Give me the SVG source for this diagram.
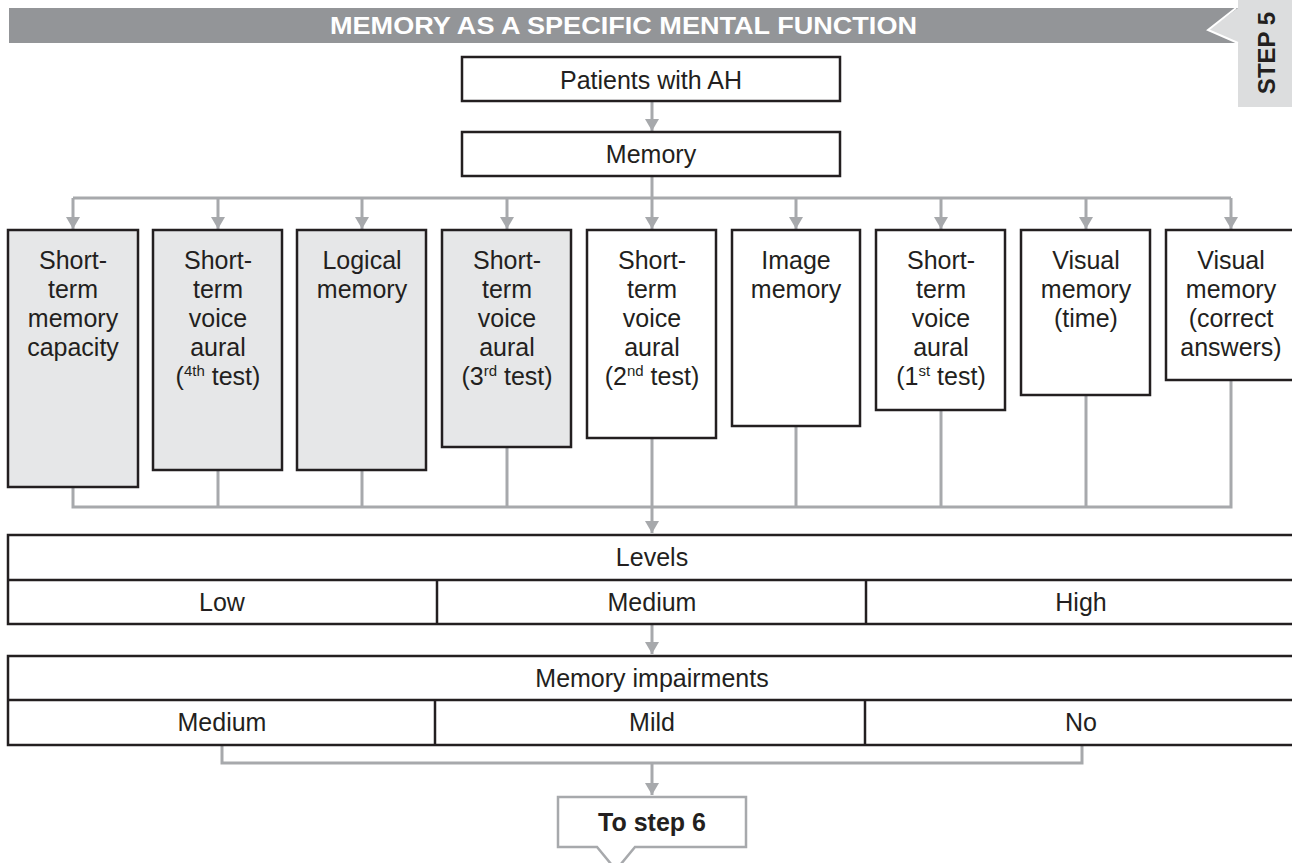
<svg xmlns="http://www.w3.org/2000/svg" width="1292" height="863" viewBox="0 0 1292 863">
<style>
text{font-family:"Liberation Sans",Arial,sans-serif;fill:#231f20;font-size:25px;text-anchor:middle}
.box{stroke:#231f20;stroke-width:2.5;fill:#fff}
.g{fill:#e6e7e8}
.c{stroke:#a7a9ac;stroke-width:3;fill:none}
.ln{stroke:#231f20;stroke-width:2.5}
.sup{font-size:15px}
</style>
<defs>
<marker id="ah" markerWidth="12" markerHeight="14" refX="12" refY="7" orient="auto" markerUnits="userSpaceOnUse">
<path d="M0,0 L12,7 L0,14 Z" fill="#a7a9ac"/>
</marker>
</defs>
<g id="header">
<rect x="9" y="8" width="1229" height="35" fill="#939598"/>
<text x="623.5" y="34" textLength="587" lengthAdjust="spacingAndGlyphs" style="fill:#fff;font-weight:bold;font-size:23px">MEMORY AS A SPECIFIC MENTAL FUNCTION</text>
</g>
<g id="step-tab">
<path d="M1238,0 H1292 V107 H1238 V43 L1208,30 L1238,8 Z" fill="#dcddde"/>
<path d="M1236,8 L1208,30 L1238,43" fill="none" stroke="#fff" stroke-width="2"/>
<text transform="translate(1275,53) rotate(-90)" style="font-weight:bold;font-size:24px">STEP 5</text>
</g>
<g id="connectors">
<line class="c" x1="652" y1="101" x2="652" y2="131" marker-end="url(#ah)"/>
<line class="c" x1="652" y1="176" x2="652" y2="198"/>
<line class="c" x1="73" y1="198" x2="1231" y2="198"/>
<line class="c" x1="73" y1="198" x2="73" y2="229" marker-end="url(#ah)"/>
<line class="c" x1="218" y1="198" x2="218" y2="229" marker-end="url(#ah)"/>
<line class="c" x1="362" y1="198" x2="362" y2="229" marker-end="url(#ah)"/>
<line class="c" x1="507" y1="198" x2="507" y2="229" marker-end="url(#ah)"/>
<line class="c" x1="652" y1="198" x2="652" y2="229" marker-end="url(#ah)"/>
<line class="c" x1="796" y1="198" x2="796" y2="229" marker-end="url(#ah)"/>
<line class="c" x1="941" y1="198" x2="941" y2="229" marker-end="url(#ah)"/>
<line class="c" x1="1086" y1="198" x2="1086" y2="229" marker-end="url(#ah)"/>
<line class="c" x1="1231" y1="198" x2="1231" y2="229" marker-end="url(#ah)"/>
<polyline class="c" points="73,487 73,507 1231,507 1231,380"/>
<line class="c" x1="218" y1="470" x2="218" y2="507"/>
<line class="c" x1="362" y1="470" x2="362" y2="507"/>
<line class="c" x1="507" y1="447" x2="507" y2="507"/>
<line class="c" x1="652" y1="438" x2="652" y2="533" marker-end="url(#ah)"/>
<line class="c" x1="796" y1="426" x2="796" y2="507"/>
<line class="c" x1="941" y1="410" x2="941" y2="507"/>
<line class="c" x1="1086" y1="395" x2="1086" y2="507"/>
<line class="c" x1="652" y1="624" x2="652" y2="654" marker-end="url(#ah)"/>
<polyline class="c" points="222,745 222,763 1082,763 1082,745"/>
<line class="c" x1="652" y1="763" x2="652" y2="795" marker-end="url(#ah)"/>
</g>
<g id="patients">
<rect class="box" x="462" y="57" width="378" height="44"/>
<text x="651" y="89">Patients with AH</text>
</g>
<g id="memory">
<rect class="box" x="462" y="132" width="378" height="44"/>
<text x="651" y="163">Memory</text>
</g>
<g id="n1">
<rect class="box g" x="8" y="230" width="130" height="257"/>
<text x="73" y="269">Short-</text><text x="73" y="298">term</text><text x="73" y="327">memory</text><text x="73" y="356">capacity</text>
</g>
<g id="n2">
<rect class="box g" x="153" y="230" width="129" height="240"/>
<text x="218" y="269">Short-</text><text x="218" y="298">term</text><text x="218" y="327">voice</text><text x="218" y="356">aural</text>
<text x="218" y="385">(<tspan class="sup" dy="-9">4th</tspan><tspan dy="9"> test)</tspan></text>
</g>
<g id="n3">
<rect class="box g" x="297" y="230" width="129" height="240"/>
<text x="362" y="269">Logical</text><text x="362" y="298">memory</text>
</g>
<g id="n4">
<rect class="box g" x="442" y="230" width="129" height="217"/>
<text x="507" y="269">Short-</text><text x="507" y="298">term</text><text x="507" y="327">voice</text><text x="507" y="356">aural</text>
<text x="507" y="385">(3<tspan class="sup" dy="-9">rd</tspan><tspan dy="9"> test)</tspan></text>
</g>
<g id="n5">
<rect class="box" x="587" y="230" width="129" height="208"/>
<text x="652" y="269">Short-</text><text x="652" y="298">term</text><text x="652" y="327">voice</text><text x="652" y="356">aural</text>
<text x="652" y="385">(2<tspan class="sup" dy="-9">nd</tspan><tspan dy="9"> test)</tspan></text>
</g>
<g id="n6">
<rect class="box" x="732" y="230" width="128" height="196"/>
<text x="796" y="269">Image</text><text x="796" y="298">memory</text>
</g>
<g id="n7">
<rect class="box" x="876" y="230" width="129" height="180"/>
<text x="941" y="269">Short-</text><text x="941" y="298">term</text><text x="941" y="327">voice</text><text x="941" y="356">aural</text>
<text x="941" y="385">(1<tspan class="sup" dy="-9">st</tspan><tspan dy="9"> test)</tspan></text>
</g>
<g id="n8">
<rect class="box" x="1021" y="230" width="129" height="165"/>
<text x="1086" y="269">Visual</text><text x="1086" y="298">memory</text><text x="1086" y="327">(time)</text>
</g>
<g id="n9">
<rect class="box" x="1166" y="230" width="132" height="150"/>
<text x="1231" y="269">Visual</text><text x="1231" y="298">memory</text><text x="1231" y="327">(correct</text><text x="1231" y="356">answers)</text>
</g>
<g id="levels">
<rect class="box" x="8" y="535" width="1290" height="89"/>
<line class="ln" x1="8" y1="580" x2="1298" y2="580"/>
<line class="ln" x1="437" y1="580" x2="437" y2="624"/>
<line class="ln" x1="866" y1="580" x2="866" y2="624"/>
<text x="652" y="566">Levels</text>
<text x="222" y="611">Low</text><text x="652" y="611">Medium</text><text x="1081" y="611">High</text>
</g>
<g id="impairments">
<rect class="box" x="8" y="656" width="1290" height="89"/>
<line class="ln" x1="8" y1="700" x2="1298" y2="700"/>
<line class="ln" x1="435" y1="700" x2="435" y2="745"/>
<line class="ln" x1="865" y1="700" x2="865" y2="745"/>
<text x="652" y="687">Memory impairments</text>
<text x="222" y="731">Medium</text><text x="652" y="731">Mild</text><text x="1081" y="731">No</text>
</g>
<g id="to-step-6">
<path d="M558,797 H746 V847 H635 L616,870 L597,847 H558 Z" fill="#fff" stroke="#a7a9ac" stroke-width="2.5"/>
<text x="652" y="831" style="font-weight:bold;font-size:25px">To step 6</text>
</g>
</svg>
